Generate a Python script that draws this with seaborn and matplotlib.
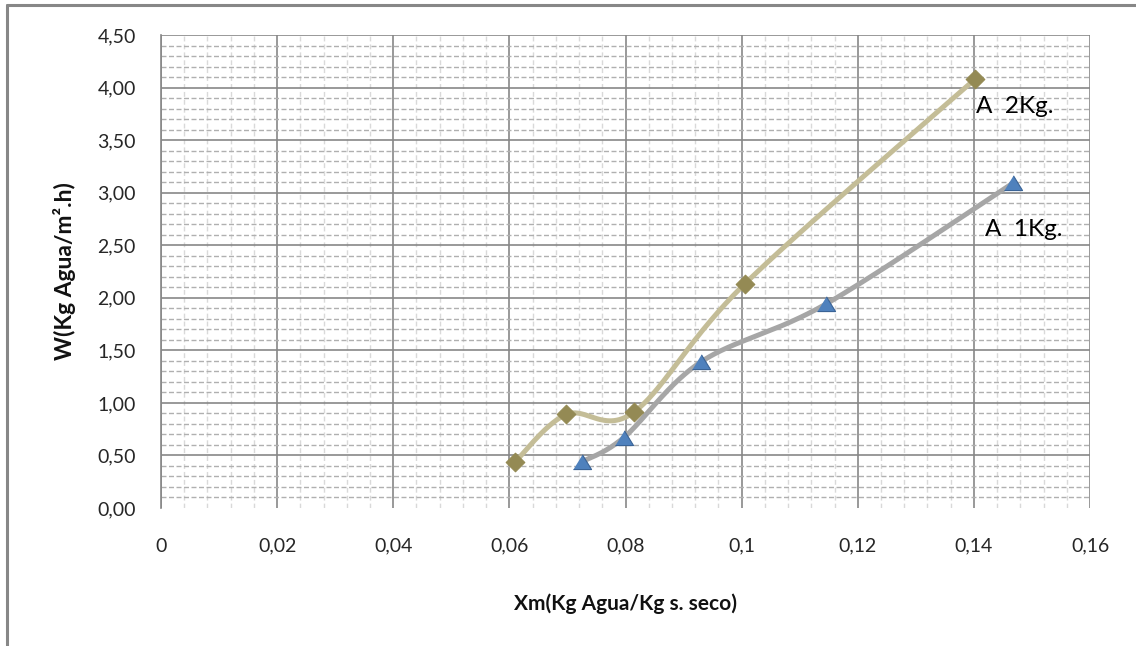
import numpy as np
import pandas as pd
import matplotlib
matplotlib.use("Agg")
import matplotlib.pyplot as plt
import seaborn as sns
from matplotlib.ticker import MultipleLocator, FixedLocator, FixedFormatter
from matplotlib.lines import Line2D

# ---------------- data ----------------
series_names = ["A  2Kg.", "A  1Kg."]
x_2kg = [0.0610, 0.0698, 0.0814, 0.1005, 0.1402]
w_2kg = [0.44, 0.89, 0.91, 2.13, 4.08]
x_1kg = [0.0725, 0.0797, 0.0930, 0.1145, 0.1467]
w_1kg = [0.44, 0.67, 1.39, 1.94, 3.09]

x_ticks = [0, 0.02, 0.04, 0.06, 0.08, 0.10, 0.12, 0.14, 0.16]
x_tick_labels = ["0", "0,02", "0,04", "0,06", "0,08", "0,1", "0,12", "0,14", "0,16"]
y_ticks = [0, 0.5, 1.0, 1.5, 2.0, 2.5, 3.0, 3.5, 4.0, 4.5]
y_tick_labels = ["0,00", "0,50", "1,00", "1,50", "2,00", "2,50", "3,00", "3,50", "4,00", "4,50"]
x_label = "Xm(Kg Agua/Kg s. seco)"
y_label = "W(Kg Agua/m\u00b2.h)"

# ---------------- style ----------------
sns.set_style("white")
plt.rcParams["font.family"] = ["Lato", "DejaVu Sans"]
plt.rcParams["text.color"] = "#1a1a1a"

GRID_MAJOR = "#878787"
GRID_MINOR_H = "#b0b0b0"
GRID_MINOR_V = "#d9d9d9"
OLIVE_LINE = "#c4bd97"
OLIVE_MARK = "#948a54"
GRAY_LINE = "#a6a6a6"
BLUE_MARK = "#4f81bd"
BLUE_EDGE = "#3a6396"


def excel_smooth(xs, ys, n=60):
    """Bezier smoothing (Catmull-Rom style) similar to Excel's smoothed lines."""
    P = np.column_stack([xs, ys]).astype(float)
    out = []
    for i in range(len(P) - 1):
        p0 = P[i - 1] if i > 0 else P[i]
        p1 = P[i]
        p2 = P[i + 1]
        p3 = P[i + 2] if i + 2 < len(P) else P[i + 1]
        c1 = p1 + (p2 - p0) / 6.0
        c2 = p2 - (p3 - p1) / 6.0
        t = np.linspace(0, 1, n)[:, None]
        seg = (1 - t) ** 3 * p1 + 3 * (1 - t) ** 2 * t * c1 + 3 * (1 - t) * t ** 2 * c2 + t ** 3 * p2
        out.append(seg if i == 0 else seg[1:])
    return np.vstack(out)


W, H = 1136, 646
fig = plt.figure(figsize=(W / 100, H / 100), dpi=100)
ax = fig.add_axes([161 / W, (H - 508) / H, (1090 - 161) / W, (508 - 35) / H])

# smoothed lines
s2 = excel_smooth(x_2kg, w_2kg)
s1 = excel_smooth(x_1kg, w_1kg)
df1 = pd.DataFrame({"x": s1[:, 0], "y": s1[:, 1]})
df2 = pd.DataFrame({"x": s2[:, 0], "y": s2[:, 1]})

sns.lineplot(data=df1, x="x", y="y", sort=False, estimator=None, color=GRAY_LINE,
             lw=3.6, ax=ax, zorder=4, solid_capstyle="round")
tri = [(-1.0, -0.78), (1.0, -0.78), (0.0, 0.85)]
sns.scatterplot(x=x_1kg, y=w_1kg, marker=tri, s=170, color=BLUE_MARK,
                edgecolor=BLUE_EDGE, linewidth=0.8, ax=ax, zorder=5)

sns.lineplot(data=df2, x="x", y="y", sort=False, estimator=None, color=OLIVE_LINE,
             lw=3.6, ax=ax, zorder=6, solid_capstyle="round")
sns.scatterplot(x=x_2kg, y=w_2kg, marker="D", s=90, color=OLIVE_MARK,
                edgecolor=OLIVE_MARK, linewidth=0.8, ax=ax, zorder=7)

# series labels
ax.annotate(series_names[0], xy=(x_2kg[-1], w_2kg[-1]), xytext=(0.5, -20),
            textcoords="offset points", ha="left", va="center", fontsize=17.5,
            color="#000000", zorder=8)
ax.annotate(series_names[1], xy=(x_1kg[-1], w_1kg[-1]), xytext=(-20, -33),
            textcoords="offset points", ha="left", va="center", fontsize=17.5,
            color="#000000", zorder=8)

# axes limits / ticks
ax.set_xlim(0, 0.16)
ax.set_ylim(0, 4.5)
ax.xaxis.set_major_locator(FixedLocator(x_ticks))
ax.xaxis.set_major_formatter(FixedFormatter(x_tick_labels))
ax.yaxis.set_major_locator(FixedLocator(y_ticks))
ax.yaxis.set_major_formatter(FixedFormatter(y_tick_labels))
ax.xaxis.set_minor_locator(MultipleLocator(0.004))
ax.yaxis.set_minor_locator(MultipleLocator(0.1))

ax.tick_params(axis="x", which="major", direction="out", length=6.5, width=1.0,
               color=GRID_MAJOR, labelsize=14, labelcolor="#262626", pad=15)
ax.tick_params(axis="y", which="major", direction="out", length=7.2, width=1.0,
               color=GRID_MAJOR, labelsize=14, labelcolor="#262626", pad=11)
ax.tick_params(which="minor", length=0)

# grid
ax.grid(which="minor", axis="x", color=GRID_MINOR_V, lw=1.0, linestyle=(0, (3.5, 2.2)), zorder=0)
ax.grid(which="minor", axis="y", color=GRID_MINOR_H, lw=1.0, linestyle=(0, (3.6, 1.8)), zorder=1)
ax.grid(which="major", axis="both", color=GRID_MAJOR, lw=1.2, linestyle="-", zorder=2)
ax.set_axisbelow(True)
ax.yaxis.get_gridlines()[0].set_visible(False)
ax.yaxis.get_major_ticks()[0].tick1line.set_visible(False)

for side in ["top", "right", "bottom"]:
    ax.spines[side].set_visible(False)
ax.spines["left"].set_color(GRID_MAJOR)
ax.spines["left"].set_linewidth(1.2)

ax.set_xlabel(x_label, fontsize=15, fontweight="bold", color="#111111", labelpad=28)
ax.set_ylabel(y_label, fontsize=16.5, fontweight="bold", color="#111111", labelpad=15)

# outer chart border (only top and left edges visible in the frame)
fig.add_artist(Line2D([7 / W, 7 / W], [0, 1 - 5 / H], transform=fig.transFigure,
                      color=GRID_MAJOR, lw=2.2))
fig.add_artist(Line2D([7 / W, 1], [1 - 5 / H, 1 - 5 / H], transform=fig.transFigure,
                      color=GRID_MAJOR, lw=2.2))

fig.savefig("out.png", dpi=100)
